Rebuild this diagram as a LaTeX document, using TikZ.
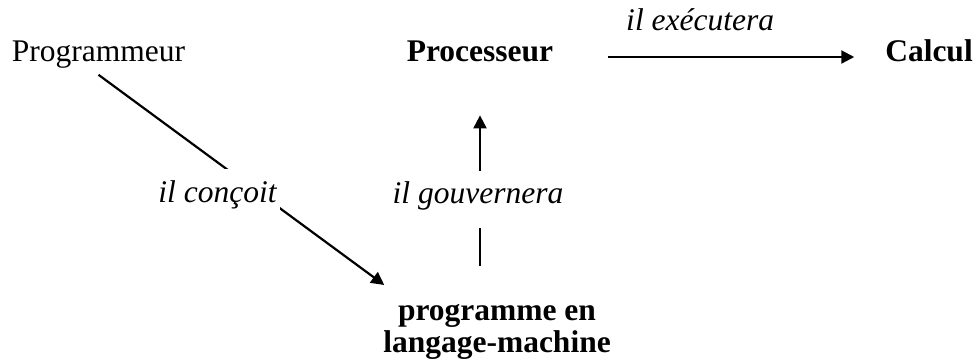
\documentclass[tikz,border=0pt]{standalone}
\usepackage{fontspec}
\setmainfont{Liberation Serif}
\usetikzlibrary{arrows.meta,positioning}

\begin{document}
\begin{tikzpicture}[
  x=0.5pt, y=-0.5pt,
  every node/.style={inner sep=3.3pt, font=\fontsize{15.75}{16}\selectfont},
  term/.style={font=\fontsize{15.75}{16}\selectfont\bfseries},
  verb/.style={font=\fontsize{15.75}{16}\selectfont\itshape},
  gap/.style={verb, fill=white, anchor=base, inner ysep=0pt},
  arr/.style={-{Triangle[length=6.5pt, width=6.5pt]}, line width=1.1pt},
]
\useasboundingbox (0,0) rectangle (974,360);

\node[anchor=base] (prog) at (98.5,61) {Programmeur};
\node[term, anchor=base] (proc) at (480,61) {Processeur};
\node[term, anchor=base] (calc) at (929,61) {Calcul};
\node[term, align=center, anchor=north] (mach) at (497,297) {programme en\\langage-machine};

%% labels sit on a white patch that cuts the line
\draw[arr] (prog.south) -- ([shift={(4pt,6pt)}]mach.north west);
\node[gap, inner xsep=1.5pt, text height=16.5pt, text depth=5pt] (concoit)
  at (217.5,202) {il conçoit};

\draw[arr, shorten <=15.5pt, shorten >=23.5pt] (proc.south |- mach.north) -- (proc.south);
\node[gap, text height=16pt, text depth=12.5pt] (gouv) at (478,203) {il gouvernera};

\draw[arr, shorten <=24pt, shorten >=12pt] ([yshift=2pt]proc.base east)
  -- node[verb, pos=0.44, above=9pt] (exec) {il exécutera} ([yshift=2pt]calc.base west);
\end{tikzpicture}
\end{document}
